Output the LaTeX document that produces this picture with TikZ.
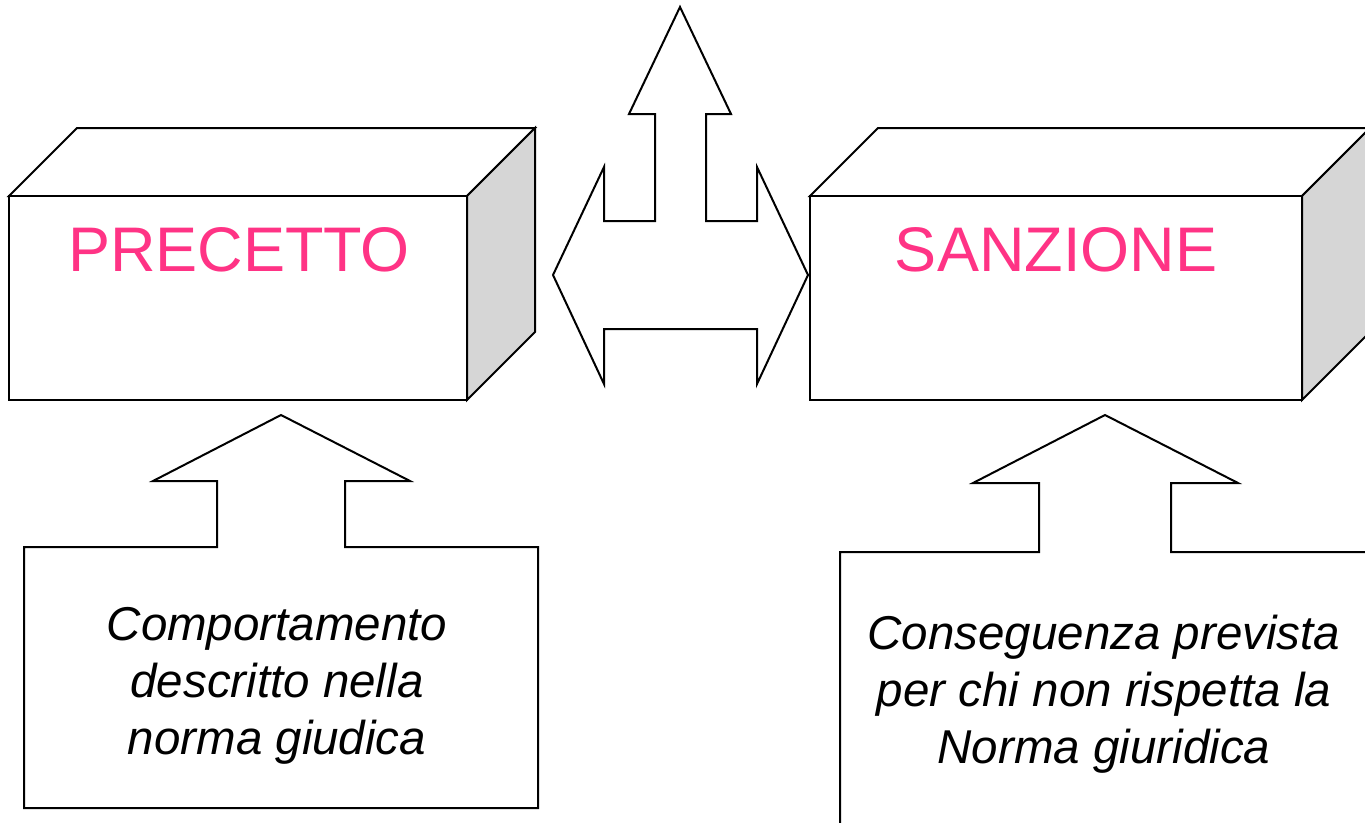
\documentclass[tikz,border=0pt]{standalone}
\usepackage{fontspec}
\setmainfont{Liberation Sans}
\definecolor{pinktxt}{HTML}{FF3385}
\definecolor{sidegrey}{HTML}{D6D6D6}
\tikzset{
  outline/.style={draw=black, line width=2pt, line join=miter, fill=white},
  sideface/.style={outline, fill=sidegrey},
  titletext/.style={inner sep=0pt, text=pinktxt, font=\fontsize{63}{76}\selectfont, anchor=base},
  notetext/.style={inner sep=0pt, align=center, text=black, font=\fontsize{47.5}{57}\selectfont\itshape}
}
\begin{document}
\begin{tikzpicture}[x=1pt,y=-1pt]
\useasboundingbox (0,0) rectangle (1365,822);
\clip (0,0) rectangle (1365,822);
% left cuboid
\draw[outline] (77,128) -- (535,128) -- (467,196) -- (9,196) -- cycle;
\draw[sideface] (467,196) -- (535,128) -- (535,332) -- (467,400) -- cycle;
\draw[outline] (9,196) rectangle (467,400);
\node[titletext] (precetto) at (239,271) {PRECETTO};
% right cuboid
\draw[outline] (878,128) -- (1370,128) -- (1302,196) -- (810,196) -- cycle;
\draw[sideface] (1302,196) -- (1370,128) -- (1370,332) -- (1302,400) -- cycle;
\draw[outline] (810,196) rectangle (1302,400);
\node[titletext] (sanzione) at (1056,271) {SANZIONE};
% central three-way arrow
\draw[outline] (553,275) -- (604,167) -- (604,221) -- (655,221) -- (655,114) -- (629,114)
  -- (680,7) -- (731,114) -- (706,114) -- (706,221) -- (757,221) -- (757,167)
  -- (808,275) -- (757,384) -- (757,329) -- (604,329) -- (604,384) -- cycle;
% left callout
\draw[outline] (24,547) -- (217,547) -- (217,481) -- (153,481) -- (281,415) -- (410,481)
  -- (345,481) -- (345,547) -- (538,547) -- (538,808) -- (24,808) -- cycle;
\node[notetext] (comportamento) at (277,686) {Comportamento\\descritto nella\\norma giudica};
% right callout
\draw[outline] (840,835) -- (840,552) -- (1039,552) -- (1039,483) -- (973,483) -- (1105,415)
  -- (1238,483) -- (1171,483) -- (1171,552) -- (1380,552) -- (1380,835) -- cycle;
\node[notetext] (conseguenza) at (1104,694) {Conseguenza prevista\\per chi non rispetta la\\Norma giuridica};
\end{tikzpicture}
\end{document}
